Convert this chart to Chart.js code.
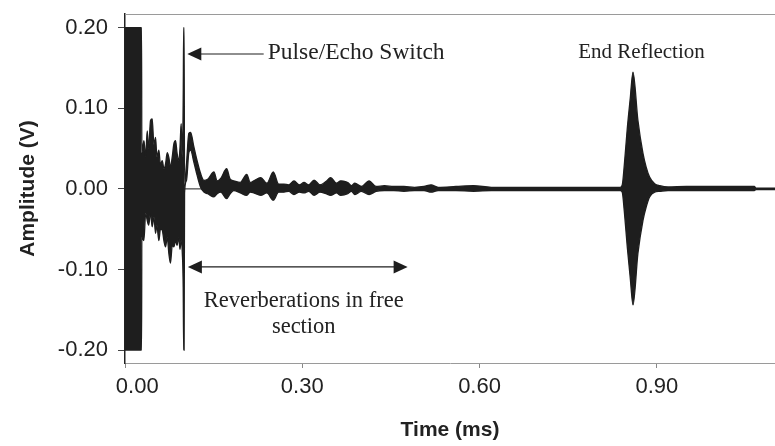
<!DOCTYPE html>
<html lang="en">
  <head>
    <meta charset="UTF-8" />
    <title>Pulse echo trace</title>
    <script src="https://cdn.jsdelivr.net/npm/chart.js"></script>
    <style>
      html, body { margin: 0; padding: 0; background: #fff; }
      #wrap { width: 775px; height: 446px; }
    </style>
  </head>
  <body>
    <div id="wrap"><canvas id="c"></canvas></div>
    <script>
      const timeMs = [
        0.000, 0.028, 0.0285, 0.032, 0.035, 0.0376, 0.040, 0.0432, 0.046, 0.049,
        0.0517, 0.054, 0.0573, 0.060, 0.063, 0.066, 0.0686, 0.0715, 0.0742, 0.077,
        0.080, 0.0827, 0.0856, 0.088, 0.091, 0.093, 0.095, 0.097, 0.0985, 0.0993,
        0.1000, 0.1008, 0.104, 0.108, 0.111, 0.1166, 0.122, 0.128, 0.1336, 0.140,
        0.1505, 0.156, 0.162, 0.172, 0.178, 0.184, 0.195, 0.206, 0.212, 0.218,
        0.2297, 0.240, 0.251, 0.260, 0.269, 0.277, 0.286, 0.295, 0.303, 0.311,
        0.320, 0.330, 0.340, 0.348, 0.358, 0.365, 0.377, 0.383, 0.389, 0.400,
        0.413, 0.425, 0.439, 0.455, 0.472, 0.490, 0.506, 0.518, 0.530, 0.560,
        0.590, 0.620, 0.680, 0.740, 0.800, 0.838, 0.8415, 0.845, 0.850, 0.855,
        0.8597, 0.868, 0.8766, 0.882, 0.8878, 0.8963, 0.905, 0.919, 0.950, 1.000,
        1.065, 1.068, 1.100
      ];
      const upperV = [
        0.200, 0.200, 0.045, 0.060, 0.040, 0.072, 0.050, 0.085, 0.087, 0.055,
        0.064, 0.040, 0.048, 0.030, 0.035, 0.025, 0.031, 0.045, 0.039, 0.027,
        0.040, 0.056, 0.060, 0.045, 0.035, 0.050, 0.081, 0.040, 0.110, 0.200,
        0.200, 0.005, 0.030, 0.069, 0.070, 0.052, 0.035, 0.019, 0.0105, 0.012,
        0.021, 0.010, 0.013, 0.025, 0.012, 0.010, 0.008, 0.018, 0.008, 0.010,
        0.014, 0.007, 0.021, 0.006, 0.006, 0.005, 0.010, 0.005, 0.008, 0.005,
        0.011, 0.005, 0.009, 0.014, 0.007, 0.010, 0.008, 0.004, 0.007, 0.003,
        0.010, 0.003, 0.004, 0.003, 0.003, 0.002, 0.003, 0.005, 0.002, 0.003,
        0.004, 0.002, 0.002, 0.002, 0.002, 0.002, 0.005, 0.030, 0.075, 0.112,
        0.145, 0.085, 0.044, 0.027, 0.0146, 0.0064, 0.004, 0.0025, 0.003, 0.003,
        0.003, 0.0008, 0.0008
      ];
      const lowerV = [
        -0.200, -0.200, -0.060, -0.064, -0.030, -0.039, -0.045, -0.030, -0.047, -0.035,
        -0.055, -0.045, -0.064, -0.050, -0.051, -0.065, -0.072, -0.060, -0.080, -0.092,
        -0.070, -0.072, -0.064, -0.070, -0.060, -0.075, -0.064, -0.080, -0.122, -0.200,
        -0.200, -0.005, 0.010, 0.045, 0.048, 0.033, 0.017, 0.002, -0.004, -0.006,
        -0.010, -0.006, -0.004, -0.012, -0.006, -0.002, -0.005, -0.008, -0.004, -0.005,
        -0.008, -0.005, -0.014, -0.004, -0.004, -0.003, -0.007, -0.004, -0.005, -0.003,
        -0.008, -0.004, -0.006, -0.008, -0.005, -0.008, -0.006, -0.003, -0.007, -0.003,
        -0.007, -0.003, -0.002, -0.002, -0.003, -0.002, -0.002, -0.004, -0.002, -0.002,
        -0.003, -0.002, -0.002, -0.002, -0.002, -0.002, -0.004, -0.028, -0.072, -0.110,
        -0.144, -0.080, -0.039, -0.0225, -0.010, -0.004, -0.003, -0.002, -0.002, -0.002,
        -0.002, -0.0008, -0.0008
      ];
      const baselineMs = [0.100, 1.100];
      const baselineV = [0, 0];

      const xTicks = [0.0, 0.3, 0.6, 0.9];
      const yTicks = [-0.2, -0.1, 0.0, 0.1, 0.2];

      const ink = "#1e1e1e";
      const serif = "'Liberation Serif', 'Times New Roman', serif";
      const sans = "'Liberation Sans', Arial, sans-serif";

      const toPts = (xs, ys) => xs.map((x, i) => ({ x: x, y: ys[i] }));

      // arrows and text labels, placed in data units
      const notes = {
        id: "notes",
        afterDraw(chart) {
          const ctx = chart.ctx;
          const xs = chart.scales.x, ys = chart.scales.y;
          const px = (t) => xs.getPixelForValue(t);
          const py = (v) => ys.getPixelForValue(v);

          // top frame line
          ctx.save();
          ctx.strokeStyle = "#9a9a9a";
          ctx.lineWidth = 1;
          ctx.beginPath();
          ctx.moveTo(chart.chartArea.left, chart.chartArea.top + 0.5);
          ctx.lineTo(chart.chartArea.right, chart.chartArea.top + 0.5);
          ctx.stroke();

          const head = (x, y, dir) => {
            ctx.beginPath();
            ctx.moveTo(x, y);
            ctx.lineTo(x - dir * 14, y - 6.5);
            ctx.lineTo(x - dir * 14, y + 6.5);
            ctx.closePath();
            ctx.fill();
          };
          ctx.strokeStyle = ink;
          ctx.fillStyle = ink;
          ctx.lineWidth = 1.2;

          // Pulse/Echo Switch arrow
          let y = py(0.1674);
          ctx.beginPath();
          ctx.moveTo(px(0.1054) + 10, y);
          ctx.lineTo(px(0.2347), y);
          ctx.stroke();
          head(px(0.1054), y, -1);

          // reverberation double arrow
          y = py(-0.0968);
          ctx.beginPath();
          ctx.moveTo(px(0.1064) + 10, y);
          ctx.lineTo(px(0.4783) - 10, y);
          ctx.stroke();
          head(px(0.1064), y, -1);
          head(px(0.4783), y, 1);

          ctx.fillStyle = "#222";
          ctx.textBaseline = "alphabetic";
          ctx.textAlign = "left";
          ctx.font = "23.5px " + serif;
          ctx.fillText("Pulse/Echo Switch", px(0.2415), py(0.161));
          ctx.font = "21px " + serif;
          ctx.fillText("End Reflection", px(0.767), py(0.163));
          ctx.font = "22.5px " + serif;
          ctx.textAlign = "center";
          ctx.fillText("Reverberations in free", px(0.3025), py(-0.1464));
          ctx.fillText("section", px(0.3025), py(-0.1793));
          ctx.restore();
        },
      };

      const traceStyle = {
        borderColor: ink,
        borderWidth: 1.3,
        pointRadius: 0,
        cubicInterpolationMode: "monotone",
      };

      new Chart(document.getElementById("c"), {
        type: "line",
        data: {
          datasets: [
            { ...traceStyle, data: toPts(timeMs, upperV), backgroundColor: ink, fill: "+1" },
            { ...traceStyle, data: toPts(timeMs, lowerV), fill: false },
            { ...traceStyle, data: toPts(baselineMs, baselineV), borderWidth: 1, fill: false },
          ],
        },
        options: {
          responsive: true,
          maintainAspectRatio: false,
          animation: false,
          layout: { padding: { top: 14, right: 0, left: 0, bottom: 0 } },
          plugins: { legend: { display: false }, tooltip: { enabled: false } },
          scales: {
            x: {
              type: "linear",
              min: 0,
              max: 1.1,
              afterFit: (s) => { s.height = 83; s.paddingLeft = 0; s.paddingRight = 0; },
              afterBuildTicks: (s) => { s.ticks = xTicks.map((v) => ({ value: v })); },
              grid: { drawOnChartArea: false, tickLength: 5, color: "#888" },
              border: { display: true, color: "#9a9a9a", width: 1 },
              ticks: {
                color: "#222",
                padding: 6,
                maxRotation: 0,
                font: { family: sans, size: 22 },
                // first label sits a little right of its tick in the original
                callback: (v) => (v === 0 ? "\u00a0\u00a0\u00a0\u00a0" : "") + v.toFixed(2),
              },
              title: {
                display: true,
                text: "Time (ms)",
                color: "#222",
                font: { family: sans, size: 21, weight: "bold" },
                padding: { top: 0, bottom: 3 },
              },
            },
            y: {
              min: -0.216,
              max: 0.217,
              afterFit: (s) => { s.width = 125; s.paddingTop = 0; s.paddingBottom = 0; },
              afterBuildTicks: (s) => { s.ticks = yTicks.map((v) => ({ value: v })); },
              grid: { drawOnChartArea: false, tickLength: 7, color: "#444" },
              border: { display: true, color: "#222", width: 1.5 },
              ticks: {
                color: "#222",
                padding: 10,
                font: { family: sans, size: 22 },
                callback: (v) => v.toFixed(2),
              },
              title: {
                display: true,
                text: "Amplitude (V)",
                color: "#222",
                font: { family: sans, size: 21, weight: "bold" },
                padding: { top: 16, bottom: 0 },
              },
            },
          },
        },
        plugins: [notes],
      });
    </script>
  </body>
</html>
